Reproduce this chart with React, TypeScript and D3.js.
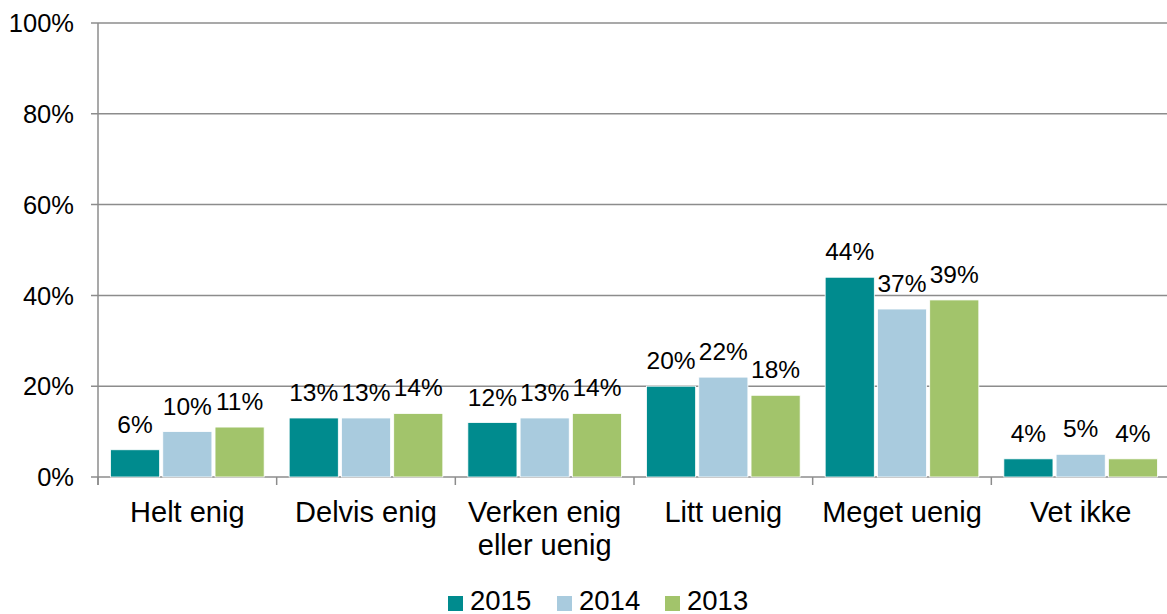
import React from "react";
import { scaleBand, scaleLinear } from "d3";

const categories = [
  ["Helt enig"],
  ["Delvis enig"],
  ["Verken enig", "eller uenig"],
  ["Litt uenig"],
  ["Meget uenig"],
  ["Vet ikke"],
];
const seriesNames = ["2015", "2014", "2013"];
const values2015 = [6, 13, 12, 20, 44, 4];
const values2014 = [10, 13, 13, 22, 37, 5];
const values2013 = [11, 14, 14, 18, 39, 4];
const yTicks = [0, 20, 40, 60, 80, 100];
const colors = ["#008B8E", "#A9CBDE", "#A2C46B"];

const width = 1167;
const height = 614;
const margin = { left: 98, top: 23, right: -3, bottom: 137 };
const font = "'Liberation Sans', Arial, sans-serif";

function App() {
  const series = [values2015, values2014, values2013];
  const keys = categories.map((c) => c.join(" "));

  const x0 = scaleBand()
    .domain(keys)
    .range([margin.left, width - margin.right])
    .paddingInner(0.14)
    .paddingOuter(0.07);
  const x1 = scaleBand()
    .domain(seriesNames)
    .range([0, x0.bandwidth()])
    .paddingInner(0.06);
  const y = scaleLinear()
    .domain([0, 100])
    .range([height - margin.bottom, margin.top]);

  const step = x0.step();
  const axisLeft = margin.left;
  // category boundaries for the x tick marks
  const boundaries = keys.map((k) => (x0(k) as number) - step * 0.07);
  boundaries.push(boundaries[boundaries.length - 1] + step);

  return (
    <svg
      width={width}
      height={height}
      style={{ position: "absolute", left: 0, top: 0, background: "#fff" }}
      fontFamily={font}
    >
      {/* gridlines + y labels */}
      {yTicks.map((t) => (
        <g key={t}>
          <line
            x1={axisLeft - 7}
            x2={width}
            y1={y(t)}
            y2={y(t)}
            stroke="#8c8c8c"
            strokeWidth={1.5}
          />
          <text
            x={74}
            y={y(t)}
            dy="0.36em"
            textAnchor="end"
            fontSize={25.5}
            fill="#000"
          >
            {t}%
          </text>
        </g>
      ))}

      {/* y axis */}
      <line
        x1={axisLeft}
        x2={axisLeft}
        y1={y(100)}
        y2={y(0) + 8}
        stroke="#8c8c8c"
        strokeWidth={1.5}
      />
      {boundaries.map((b, i) => (
        <line
          key={i}
          x1={b}
          x2={b}
          y1={y(0)}
          y2={y(0) + 8}
          stroke="#8c8c8c"
          strokeWidth={1.5}
        />
      ))}

      {/* bars */}
      {keys.map((k, ci) => (
        <g key={k} transform={`translate(${x0(k)},0)`}>
          {series.map((vals, si) => {
            const bx = x1(seriesNames[si]) as number;
            const bw = x1.bandwidth();
            return (
              <g key={si}>
                <rect
                  x={bx}
                  y={y(vals[ci])}
                  width={bw}
                  height={y(0) - y(vals[ci])}
                  fill={colors[si]}
                  stroke="#fff"
                  strokeWidth={0.8}
                />
                <text
                  x={bx + bw / 2}
                  y={y(vals[ci]) - 17}
                  textAnchor="middle"
                  fontSize={24.5}
                  fill="#000"
                >
                  {vals[ci]}%
                </text>
              </g>
            );
          })}
        </g>
      ))}

      {/* category labels */}
      {categories.map((lines, ci) => {
        const cx = (x0(keys[ci]) as number) + x0.bandwidth() / 2;
        return (
          <text key={ci} x={cx} y={522} textAnchor="middle" fontSize={29} fill="#000">
            {lines.map((l, li) => (
              <tspan key={li} x={cx} dy={li === 0 ? 0 : 33}>
                {l}
              </tspan>
            ))}
          </text>
        );
      })}

      {/* legend */}
      {seriesNames.map((s, si) => {
        const lx = [448, 557, 665][si];
        return (
          <g key={s}>
            <rect x={lx} y={596} width={15} height={15} fill={colors[si]} />
            <text x={lx + 22} y={610} fontSize={27.5} fill="#000">
              {s}
            </text>
          </g>
        );
      })}
    </svg>
  );
}

export default App;
